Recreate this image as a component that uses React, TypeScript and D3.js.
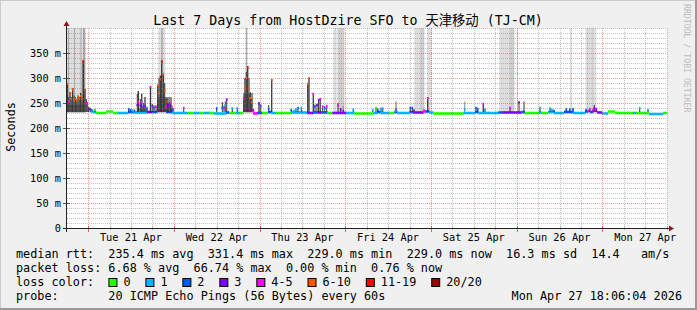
import React from 'react';
import * as d3 from 'd3';

const W = 697;
const H = 310;

const lossColors = ['#26ff00', '#00b8ff', '#0059ff', '#7e00ff', '#ff00ff', '#ff5500', '#ff0000', '#a10000'];
const lossLabels = ['0', '1', '2', '3', '4-5', '6-10', '11-19', '20/20'];
const dayLabels = ['Tue 21 Apr', 'Wed 22 Apr', 'Thu 23 Apr', 'Fri 24 Apr', 'Sat 25 Apr', 'Sun 26 Apr', 'Mon 27 Apr'];
const yTicks = [0, 50, 100, 150, 200, 250, 300, 350];
// hours after the window start (Mon Apr 20 18:06:04) at which Tue 21 Apr 00:00 falls
const firstMidnight = 5.9;
const spanHours = 168;

// median runs: [startHour, endHour, median ms, loss class]
const medianRuns: [number, number, number, number][] = [
  [5.88, 6.44, 238, 3], [6.44, 7.28, 234, 2], [7.28, 8.12, 232, 1], [8.12, 10.92, 230, 0],
  [10.92, 12.88, 233, 0], [12.88, 14.28, 230, 0], [14.28, 17.08, 230, 1], [17.08, 18.48, 232, 2],
  [18.48, 22.4, 231, 1], [22.4, 23.8, 232, 3], [23.8, 25.2, 232, 2], [25.2, 27.72, 235, 4],
  [27.72, 29.4, 232, 2], [29.4, 33.88, 230, 1], [33.88, 35.56, 230, 0], [35.56, 36.96, 230, 1],
  [36.96, 38.36, 230, 0], [38.36, 39.76, 230, 1], [39.76, 41.16, 230, 0], [41.16, 44.52, 229, 1],
  [44.52, 45.36, 231, 2], [45.36, 47.32, 230, 0], [47.32, 48.44, 230, 1], [48.44, 49.28, 230, 0],
  [49.28, 52.08, 236, 4], [52.08, 53.2, 229, 4], [53.2, 54.6, 230, 2], [54.6, 56.28, 230, 0],
  [56.28, 57.12, 232, 2], [57.12, 58.52, 230, 1], [58.52, 62.72, 230, 0], [62.72, 67.2, 231, 1],
  [67.2, 68.96, 230, 3], [68.96, 70.08, 231, 2], [70.08, 71.2, 231, 3], [71.2, 72.88, 231, 2],
  [72.88, 74.28, 230, 0], [74.28, 78.2, 230, 3], [78.2, 80.44, 230, 1], [80.44, 85.76, 229, 0],
  [85.76, 86.88, 230, 1], [86.88, 87.72, 232, 2], [87.72, 90.24, 230, 1], [90.24, 91.64, 230, 0],
  [91.64, 92.48, 232, 2], [92.48, 95.84, 230, 1], [95.84, 96.96, 232, 2], [96.96, 99.76, 231, 3],
  [99.76, 100.32, 233, 4], [100.32, 101.44, 233, 2], [101.44, 102.56, 231, 1], [102.56, 110.96, 229, 0],
  [110.96, 114.32, 230, 1], [114.32, 115.16, 232, 2], [115.16, 120.76, 230, 1], [120.76, 121.88, 231, 2],
  [121.88, 127.2, 231, 3], [127.2, 127.96, 232, 2], [127.96, 132.16, 230, 0], [132.16, 132.72, 231, 1],
  [132.72, 134.68, 230, 0], [134.68, 136.36, 232, 1], [136.36, 139.16, 230, 1], [139.16, 141.68, 232, 2],
  [141.68, 145.04, 230, 1], [145.04, 145.88, 233, 2], [145.88, 146.44, 234, 4], [146.44, 147.28, 232, 2],
  [147.28, 148.4, 234, 4], [148.4, 149.8, 231, 3], [149.8, 151.48, 229, 1], [151.48, 153.44, 233, 0],
  [153.44, 158.48, 230, 0], [158.48, 159.32, 230, 1], [159.32, 162.96, 230, 0], [162.96, 166.88, 228, 1],
  [166.88, 168, 230, 0],
];

// spikes: [hour, width hours, smoke top ms, median ms, loss class, light smoke 1/0]
const spikes: [number, number, number, number, number, number][] = [
  [0.08, 0.36, 290, 288, 5, 0], [0.48, 0.28, 262, 253, 4, 0], [0.84, 0.36, 272, 268, 5, 0],
  [1.2, 0.28, 262, 258, 5, 0], [1.6, 0.36, 280, 277, 5, 0], [1.96, 0.28, 265, 255, 5, 0],
  [2.32, 0.36, 262, 258, 5, 0], [2.72, 0.28, 258, 255, 5, 0], [3.08, 0.36, 265, 262, 5, 0],
  [3.44, 0.28, 262, 258, 5, 0], [3.84, 0.36, 270, 264, 5, 0], [4.2, 0.28, 262, 258, 5, 0],
  [4.56, 0.48, 335, 333, 6, 0], [5.04, 0.36, 278, 276, 5, 0], [5.4, 0.28, 258, 250, 4, 0],
  [5.68, 0.28, 252, 250, 4, 0], [6.02, 0.28, 242, 239, 3, 0], [6.52, 0.28, 240, 236, 2, 0],
  [6.92, 0.28, 238, 233, 1, 0], [7.84, 0.28, 238, 236, 0, 0],
  [17.28, 0.28, 240, 237, 2, 0], [17.84, 0.28, 238, 235, 2, 0], [18.28, 0.28, 237, 235, 1, 0],
  [18.9, 0.28, 237, 234, 2, 0], [19.68, 0.28, 268, 246, 3, 0], [19.96, 0.36, 274, 252, 4, 0],
  [20.52, 0.28, 258, 245, 3, 0], [20.92, 0.36, 269, 252, 4, 0], [21.36, 0.28, 250, 242, 3, 0],
  [21.84, 0.36, 262, 244, 3, 0], [22.4, 0.28, 243, 238, 2, 0], [23.38, 0.36, 284, 282, 4, 0],
  [23.88, 0.28, 248, 244, 3, 0], [24.36, 0.28, 246, 240, 2, 0], [24.92, 0.28, 245, 242, 4, 0],
  [25.4, 0.36, 286, 285, 5, 0], [25.76, 0.28, 300, 270, 5, 0], [26.12, 0.36, 305, 297, 5, 0],
  [26.52, 0.36, 335, 333, 6, 0], [26.96, 0.36, 310, 308, 5, 0], [27.36, 0.28, 290, 275, 5, 0],
  [27.72, 0.28, 260, 243, 4, 0], [28.08, 0.36, 258, 253, 5, 0], [28.48, 0.28, 250, 245, 3, 0],
  [28.92, 0.36, 252, 250, 4, 0], [29.32, 0.28, 245, 242, 4, 0], [29.68, 0.28, 240, 237, 2, 0],
  [32.68, 0.28, 242, 240, 4, 0],
  [41.92, 0.28, 241, 239, 2, 0], [43.48, 0.28, 252, 240, 2, 0], [43.96, 0.28, 245, 240, 4, 0],
  [44.32, 0.28, 253, 245, 1, 0], [44.72, 0.28, 258, 257, 3, 0], [46.28, 0.28, 241, 239, 1, 0],
  [47.68, 0.28, 241, 239, 1, 0], [49.48, 0.28, 262, 258, 4, 0], [49.84, 0.36, 300, 280, 5, 0],
  [50.2, 0.28, 312, 300, 5, 0], [50.6, 0.36, 324, 321, 6, 0], [50.96, 0.28, 300, 279, 5, 0],
  [51.32, 0.28, 272, 260, 5, 0], [51.72, 0.28, 258, 252, 5, 0], [52.22, 0.28, 238, 234, 4, 0],
  [53.76, 0.36, 251, 249, 3, 0], [54.24, 0.28, 247, 244, 2, 0], [56.48, 0.28, 246, 238, 2, 0],
  [57.32, 0.36, 298, 296, 5, 0], [62.8, 0.28, 238, 236, 2, 0], [63.56, 0.28, 236, 234, 1, 0],
  [64.12, 0.28, 239, 237, 1, 0], [64.68, 0.28, 241, 240, 2, 0], [65.6, 0.28, 242, 240, 1, 0],
  [67.4, 0.36, 290, 288, 5, 0], [67.76, 0.36, 301, 299, 5, 0], [68.96, 0.36, 270, 268, 4, 0],
  [69.44, 0.28, 247, 243, 2, 0], [70.0, 0.28, 248, 246, 3, 0], [70.48, 0.36, 258, 256, 3, 0],
  [70.92, 0.28, 260, 258, 4, 0], [71.6, 0.28, 245, 243, 4, 0], [72.16, 0.28, 244, 240, 2, 0],
  [72.72, 0.28, 246, 244, 4, 0], [75.88, 0.28, 250, 245, 4, 0], [76.64, 0.28, 240, 237, 3, 0],
  [77.36, 0.28, 245, 234, 3, 1], [80.16, 0.28, 238, 237, 1, 0],
  [85.6, 0.28, 237, 236, 1, 0], [86.52, 0.28, 241, 240, 0, 0], [87.0, 0.28, 238, 237, 2, 0],
  [87.92, 0.28, 241, 236, 1, 0], [88.4, 0.28, 240, 239, 1, 0], [92.12, 0.36, 253, 237, 2, 1],
  [96.12, 0.28, 241, 240, 2, 0], [96.68, 0.28, 241, 240, 2, 0], [97.16, 0.28, 238, 233, 3, 0],
  [100.04, 0.28, 236, 235, 4, 0], [101.0, 0.36, 262, 259, 4, 0], [111.36, 0.28, 253, 237, 1, 1],
  [114.52, 0.28, 241, 240, 2, 0], [115.0, 0.28, 240, 238, 2, 0], [116.56, 0.36, 249, 248, 4, 0],
  [117.04, 0.28, 238, 237, 1, 0], [124.04, 0.28, 241, 240, 4, 0], [126.56, 0.28, 253, 251, 3, 0],
  [127.96, 0.28, 253, 232, 2, 0], [132.44, 0.28, 242, 240, 1, 0], [135.24, 0.28, 240, 239, 1, 0],
  [135.8, 0.28, 238, 236, 1, 0], [136.36, 0.28, 236, 234, 2, 0], [139.8, 0.28, 238, 237, 2, 0],
  [140.76, 0.28, 238, 237, 2, 0], [141.68, 0.28, 240, 237, 2, 0], [145.4, 0.28, 238, 236, 2, 0],
  [146.36, 0.28, 240, 238, 4, 0], [147.28, 0.28, 238, 236, 4, 0], [147.64, 0.28, 246, 240, 3, 0],
  [148.2, 0.28, 240, 238, 3, 0], [160.36, 0.28, 241, 240, 1, 0], [162.68, 0.28, 238, 235, 1, 0],
];

// medium grey smoke areas: [startHour, endHour, top ms]
const midSmoke: [number, number, number][] = [
  [0, 5.32, 246], [19.6, 22.4, 240], [25.2, 29.4, 262], [49.28, 52.08, 270],
];

// outlier smoke reaching the top of the graph: [startHour, endHour, level]
const bands: [number, number, number][] = [
  [0, 5.32, 0], [25.56, 27.52, 0], [49.92, 50.6, 0], [74.56, 75.52, 0], [75.8, 77.64, 0],
  [97.24, 100.04, 0], [100.8, 102.12, 0], [121.04, 125.24, 0], [140.84, 141.4, 0], [145.24, 148.2, 0],
  [98.84, 100.04, 1], [123.84, 125.24, 1], [75.8, 77.64, 1], [126.08, 126.28, 1], [145.64, 145.88, 1],
  [147.0, 147.28, 1],
  [0.28, 0.56, 2], [1.96, 2.24, 2], [3.78, 4.06, 2], [4.48, 5.04, 2], [26.4, 26.8, 2], [50.12, 50.4, 2],
];
const bandColors = ['#dddddd', '#cdcdcd', '#a9a9a9'];

const statLines = [
  'median rtt:  235.4 ms avg  331.4 ms max  229.0 ms min  229.0 ms now  16.3 ms sd  14.4   am/s',
  'packet loss: 6.68 % avg  66.74 % max  0.00 % min  0.76 % now',
];
const probeLine = 'probe:       20 ICMP Echo Pings (56 Bytes) every 60s';
const stampText = 'Mon Apr 27 18:06:04 2026';
const titleText = 'Last 7 Days from HostDzire SFO to 天津移动 (TJ-CM)';

const FONT = "'DejaVu Sans Mono', 'Noto Sans CJK SC', monospace";

export default function App() {
  const x0 = 67, x1 = 667, yTop = 28, yBot = 228;
  const x = d3.scaleLinear().domain([0, spanHours]).range([x0, x1]);
  const y = d3.scaleLinear().domain([0, 400]).range([yBot, yTop]);
  const hpx = x(1) - x(0);

  const gridV = d3.range(0, 28).map((k) => ({ h: firstMidnight + 6 * k, major: k % 4 === 0 })).filter((g) => g.h <= spanHours);
  const gridH = d3.range(10, 401, 10).map((v) => ({ v, major: v % 50 === 0 && v < 400 }));
  const charW = 7.11;

  // legend boxes
  let lx = 16 + 13 * charW;
  const legendItems = lossLabels.map((lab, i) => {
    const item = { lab, color: lossColors[i], x: lx };
    lx += (lab.length + 4.2) * charW;
    return item;
  });

  const baseMs = 231;

  return (
    <svg width={W} height={H} style={{ position: 'fixed', left: 0, top: 0, display: 'block' }} xmlns="http://www.w3.org/2000/svg">
      <rect x={0} y={0} width={W} height={H} fill="#f0f0f0" />
      <rect x={0} y={0} width={W} height={1} fill="#cbcbcb" />
      <rect x={0} y={0} width={1} height={H} fill="#cbcbcb" />
      <rect x={0} y={H - 2} width={W} height={2} fill="#999999" />
      <rect x={W - 2} y={0} width={2} height={H} fill="#999999" />

      <rect x={x0} y={yTop} width={x1 - x0} height={yBot - yTop} fill="#ffffff" />

      {/* outlier bands */}
      {bands.map((b, i) => (
        <rect key={'b' + i} x={x(b[0])} y={y(400)} width={x(b[1]) - x(b[0])} height={y(232) - y(400)} fill={bandColors[b[2]]} />
      ))}
      {/* medium smoke */}
      {midSmoke.map((s, i) => (
        <rect key={'m' + i} x={x(s[0])} y={y(s[2])} width={x(s[1]) - x(s[0])} height={y(baseMs) - y(s[2])} fill="#8a8a8a" />
      ))}
      {/* median runs */}
      {medianRuns.map((r, i) => (
        <line key={'r' + i} x1={x(r[0])} x2={x(r[1]) + 0.3} y1={y(r[2])} y2={y(r[2])} stroke={lossColors[r[3]]} strokeWidth={2.6} />
      ))}
      {/* spike smoke */}
      {spikes.map((s, i) => {
        const w = s[1] * hpx;
        return (
          <rect key={'s' + i} x={x(s[0]) - w / 2} y={y(s[2])} width={w} height={y(baseMs + 1) - y(s[2])} fill={s[5] ? '#8c8c8c' : '#333333'} />
        );
      })}
      {/* spike medians */}
      {spikes.map((s, i) => {
        const w = Math.max(s[1] * hpx, 1.6);
        return (
          <line key={'d' + i} x1={x(s[0]) - w / 2} x2={x(s[0]) + w / 2} y1={y(s[3])} y2={y(s[3])} stroke={lossColors[s[4]]} strokeWidth={2.4} />
        );
      })}

      {/* grid */}
      {gridH.map((g) => (
        <line key={'gh' + g.v} x1={x0} x2={x1} y1={y(g.v) + 0.5} y2={y(g.v) + 0.5}
          stroke={g.major ? 'rgba(200,40,40,0.45)' : 'rgba(120,120,120,0.45)'} strokeWidth={1} strokeDasharray="1 1" />
      ))}
      {gridV.map((g) => (
        <line key={'gv' + g.h} x1={Math.round(x(g.h)) + 0.5} x2={Math.round(x(g.h)) + 0.5} y1={yTop} y2={yBot}
          stroke={g.major ? 'rgba(200,40,40,0.45)' : 'rgba(120,120,120,0.45)'} strokeWidth={1} strokeDasharray="1 1" />
      ))}

      {/* ticks */}
      {gridV.map((g) => (
        <line key={'tv' + g.h} x1={Math.round(x(g.h)) + 0.5} x2={Math.round(x(g.h)) + 0.5} y1={g.major ? 226 : 227} y2={g.major ? 232 : 230}
          stroke={g.major ? 'rgba(200,40,40,0.7)' : 'rgba(120,120,120,0.6)'} strokeWidth={1} />
      ))}
      {yTicks.map((v) => (
        <line key={'ty' + v} x1={63} x2={70} y1={Math.round(y(v)) + 0.5} y2={Math.round(y(v)) + 0.5} stroke="#555" strokeWidth={1} />
      ))}

      {/* axes */}
      <line x1={63} x2={670} y1={yBot + 0.5} y2={yBot + 0.5} stroke="#222" strokeWidth={1} />
      <line x1={x0 - 0.5} x2={x0 - 0.5} y1={232} y2={24} stroke="#222" strokeWidth={1} />
      <path d={`M669,${yBot - 2.5} L674,${yBot + 0.5} L669,${yBot + 3.5} Z`} fill="#8b1a1a" />
      <path d={`M${x0 - 3.5},26 L${x0 - 0.5},21 L${x0 + 2.5},26 Z`} fill="#8b1a1a" />

      {/* axis labels */}
      {yTicks.map((v) => (
        <text key={'ly' + v} x={61} y={y(v) + 3.7} textAnchor="end" fontFamily={FONT} fontSize={10.3} fill="#000" style={{ whiteSpace: 'pre' }}>
          {v === 0 ? '0' : `${v} m`}
        </text>
      ))}
      {dayLabels.map((d, i) => (
        <text key={'lx' + i} x={x(firstMidnight + 12 + 24 * i)} y={241} textAnchor="middle" fontFamily={FONT} fontSize={10.3} fill="#000">
          {d}
        </text>
      ))}
      <text transform="translate(15,127) rotate(-90)" textAnchor="middle" fontFamily={FONT} fontSize={11.8} fill="#000">Seconds</text>

      {/* title */}
      <text x={348} y={25} textAnchor="middle" fontFamily={FONT} fontSize={13.3} fill="#000" style={{ whiteSpace: 'pre' }}>{titleText}</text>

      {/* credit */}
      <text transform="translate(684,4) rotate(90)" fontFamily={FONT} fontSize={8.2} fill="#bdbdbd" style={{ whiteSpace: 'pre' }}>RRDTOOL / TOBI OETIKER</text>

      {/* legend */}
      {statLines.map((s, i) => (
        <text key={'st' + i} x={16} y={257.5 + 14 * i} fontFamily={FONT} fontSize={11.8} fill="#000" xmlSpace="preserve" style={{ whiteSpace: 'pre' }}>{s}</text>
      ))}
      <text x={16} y={285.5} fontFamily={FONT} fontSize={11.8} fill="#000" style={{ whiteSpace: 'pre' }}>loss color:</text>
      {legendItems.map((it) => (
        <g key={'lg' + it.lab}>
          <rect x={it.x + 0.5} y={278.5} width={8} height={8} fill={it.color} stroke="#000" strokeWidth={1} />
          <text x={it.x + 15} y={285.5} fontFamily={FONT} fontSize={11.8} fill="#000">{it.lab}</text>
        </g>
      ))}
      <text x={16} y={299.5} fontFamily={FONT} fontSize={11.8} fill="#000" xmlSpace="preserve" style={{ whiteSpace: 'pre' }}>{probeLine}</text>
      <text x={682} y={299.5} textAnchor="end" fontFamily={FONT} fontSize={11.8} fill="#000">{stampText}</text>
    </svg>
  );
}
